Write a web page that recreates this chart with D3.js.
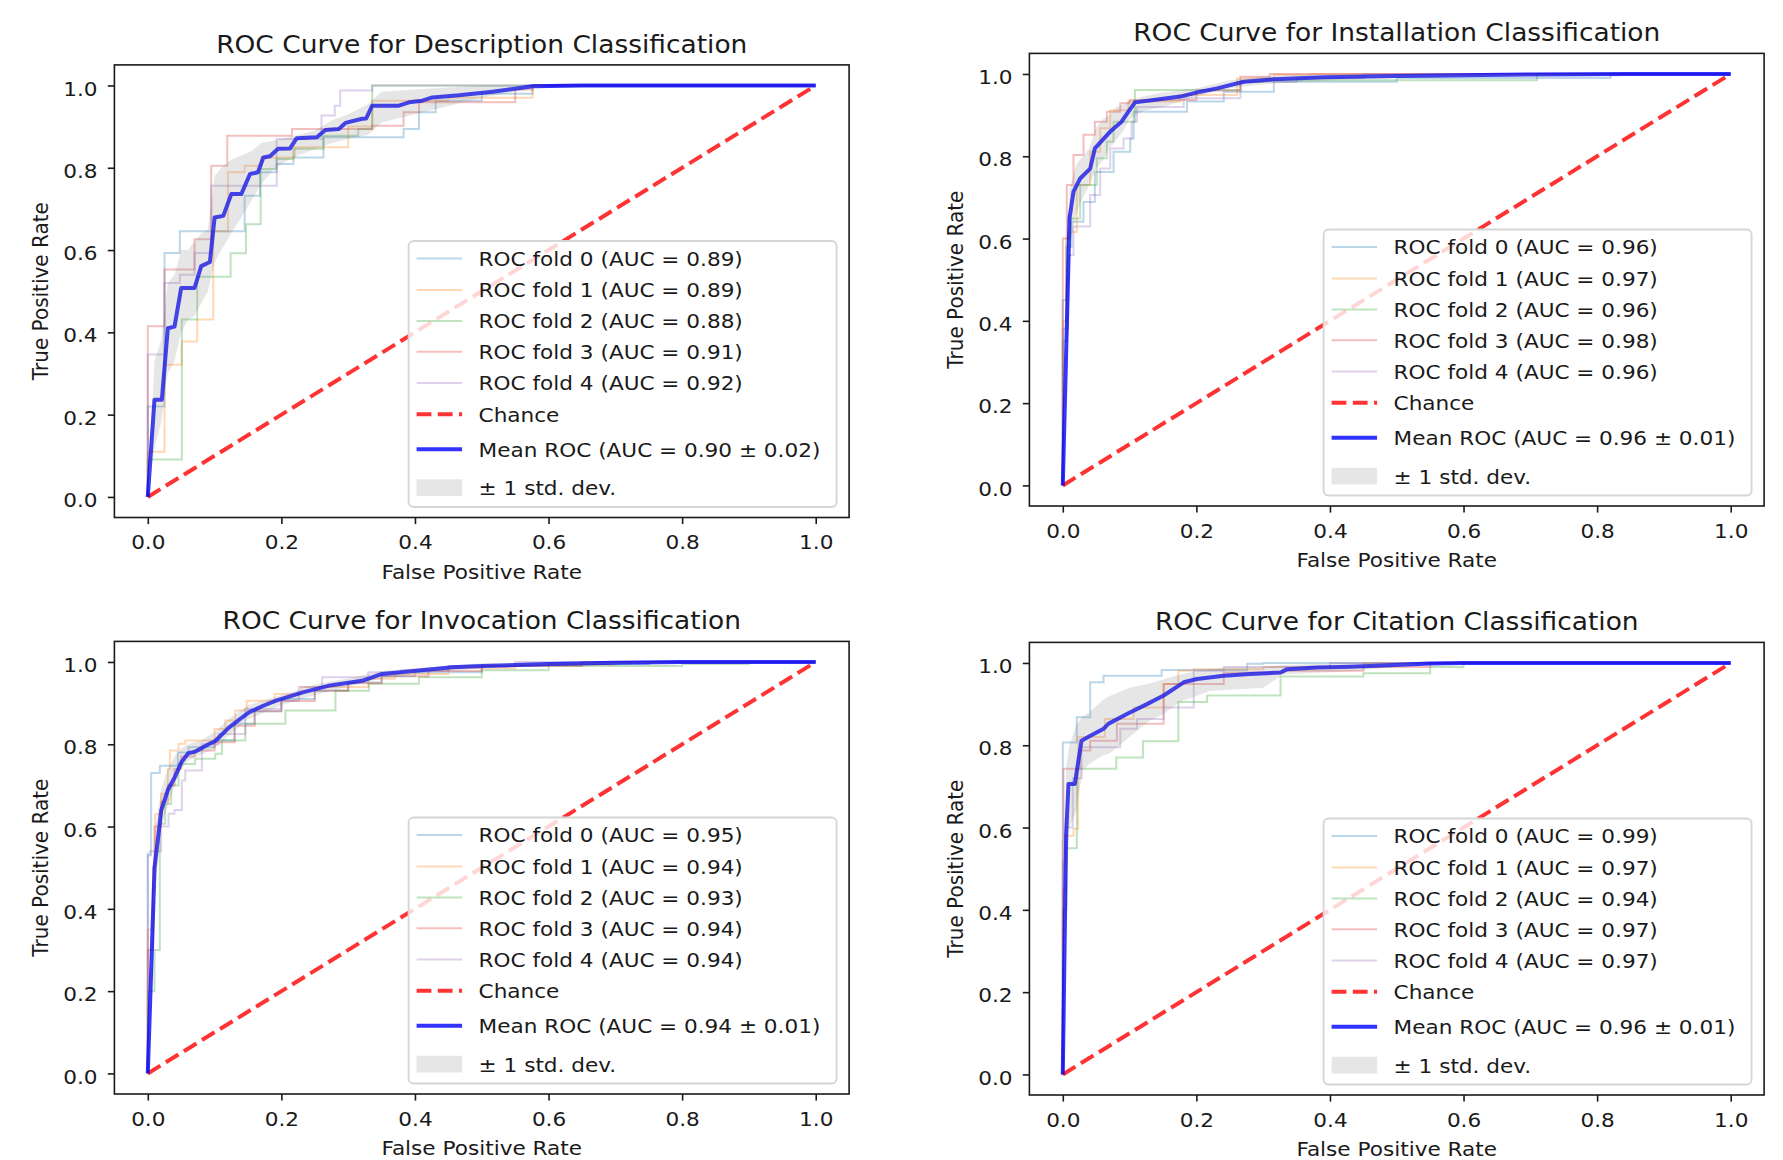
<!DOCTYPE html>
<html>
<head>
<meta charset="utf-8">
<script src="https://cdnjs.cloudflare.com/ajax/libs/d3/7.8.5/d3.min.js"></script>
<style>
  body { margin: 0; background: #fff; }
  svg text { font-family: 'DejaVu Sans', sans-serif; fill: #1a1a1a; }
</style>
</head>
<body>
<div id="chart"></div>
<script>
// tick values shared by both axes of every panel
var ticks = [0, 0.2, 0.4, 0.6, 0.8, 1.0]
var foldColors = ['#1f77b4', '#ff7f0e', '#2ca02c', '#d62728', '#9467bd']
var chanceLine = [[0, 0], [1, 1]]

var titles = [
  'ROC Curve for Description Classification',
  'ROC Curve for Installation Classification',
  'ROC Curve for Invocation Classification',
  'ROC Curve for Citation Classification'
]

// --- Description ---
var descAuc = [0.89, 0.89, 0.88, 0.91, 0.92]
var descMeanAuc = '0.90 ± 0.02'
var descFolds = [
  [[0,0],[0,0.22],[0.025,0.22],[0.025,0.593],[0.048,0.593],[0.048,0.646],[0.095,0.646],[0.145,0.663],[0.145,0.732],[0.168,0.789],[0.193,0.809],[0.218,0.825],[0.263,0.874],[0.383,0.894],[0.406,0.935],[0.431,0.963],[0.5,0.98],[0.576,1],[1,1]],
  [[0,0],[0,0.11],[0.025,0.321],[0.051,0.378],[0.074,0.431],[0.098,0.646],[0.12,0.789],[0.145,0.805],[0.17,0.825],[0.22,0.85],[0.3,0.9],[0.336,0.963],[0.45,0.97],[0.576,1],[1,1]],
  [[0,0],[0,0.091],[0.051,0.431],[0.074,0.535],[0.124,0.592],[0.147,0.663],[0.169,0.797],[0.193,0.821],[0.218,0.846],[0.263,0.878],[0.315,0.894],[0.336,1],[1,1]],
  [[0,0],[0,0.415],[0.025,0.553],[0.07,0.626],[0.095,0.805],[0.119,0.878],[0.216,0.894],[0.336,0.902],[0.383,0.935],[0.406,0.959],[0.55,0.99],[0.576,1],[1,1]],
  [[0,0],[0,0.346],[0.01,0.346],[0.025,0.52],[0.048,0.54],[0.07,0.593],[0.095,0.756],[0.14,0.756],[0.193,0.87],[0.26,0.927],[0.28,0.951],[0.288,0.988],[0.336,1],[1,1]]
]
var descMean = [[0,0],[0.01,0.236],[0.021,0.236],[0.03,0.41],[0.04,0.414],[0.05,0.508],[0.07,0.508],[0.08,0.561],[0.093,0.571],[0.1,0.679],[0.113,0.683],[0.125,0.736],[0.14,0.736],[0.153,0.785],[0.165,0.789],[0.173,0.825],[0.183,0.828],[0.195,0.846],[0.213,0.847],[0.223,0.872],[0.253,0.874],[0.266,0.892],[0.286,0.894],[0.296,0.909],[0.321,0.919],[0.327,0.92],[0.336,0.951],[0.376,0.951],[0.391,0.959],[0.411,0.963],[0.426,0.971],[0.466,0.976],[0.516,0.985],[0.541,0.99],[0.576,0.998],[0.65,1],[1,1]]
var descBand = [[0,0,0],[0.01,0.12,0.33],[0.02,0.18,0.38],[0.03,0.3,0.52],[0.04,0.33,0.54],[0.05,0.4,0.6],[0.06,0.43,0.6],[0.07,0.44,0.62],[0.08,0.47,0.64],[0.09,0.5,0.65],[0.1,0.57,0.78],[0.11,0.6,0.8],[0.125,0.64,0.82],[0.14,0.68,0.83],[0.155,0.72,0.84],[0.17,0.76,0.86],[0.185,0.79,0.865],[0.2,0.81,0.87],[0.225,0.83,0.88],[0.25,0.845,0.89],[0.275,0.86,0.915],[0.3,0.87,0.93],[0.33,0.88,0.955],[0.35,0.91,0.985],[0.4,0.93,0.99],[0.45,0.95,0.995],[0.5,0.97,1],[0.55,0.985,1],[0.6,1,1],[1,1,1]]

// --- Installation ---
var instAuc = [0.96, 0.97, 0.96, 0.98, 0.96]
var instMeanAuc = '0.96 ± 0.01'
var instFolds = [
  [[0,0],[0,0.45],[0.005,0.58],[0.013,0.641],[0.031,0.689],[0.048,0.762],[0.076,0.811],[0.101,0.843],[0.106,0.908],[0.171,0.908],[0.186,0.933],[0.241,0.957],[0.316,0.981],[0.5,0.99],[0.82,0.995],[0.82,1],[1,1]],
  [[0,0],[0,0.4],[0.005,0.6],[0.0085,0.616],[0.021,0.73],[0.041,0.811],[0.056,0.868],[0.071,0.912],[0.098,0.933],[0.176,0.949],[0.261,0.989],[0.316,0.998],[0.37,1],[1,1]],
  [[0,0],[0,0.35],[0.006,0.6],[0.011,0.649],[0.026,0.73],[0.051,0.795],[0.066,0.835],[0.076,0.884],[0.108,0.92],[0.108,0.961],[0.226,0.961],[0.266,0.981],[0.3,0.985],[0.71,0.985],[0.71,1],[1,1]],
  [[0,0],[0,0.6],[0.006,0.6],[0.006,0.73],[0.016,0.803],[0.031,0.852],[0.048,0.884],[0.066,0.908],[0.086,0.929],[0.1,0.937],[0.2,0.96],[0.266,0.993],[0.31,1],[1,1]],
  [[0,0],[0,0.38],[0.008,0.56],[0.016,0.629],[0.041,0.706],[0.056,0.77],[0.071,0.819],[0.091,0.843],[0.103,0.884],[0.111,0.92],[0.181,0.941],[0.266,0.981],[0.35,0.99],[0.45,1],[1,1]]
]
var instMean = [[0,0],[0.0101,0.65],[0.016,0.714],[0.026,0.746],[0.041,0.77],[0.048,0.819],[0.071,0.86],[0.088,0.884],[0.098,0.908],[0.108,0.931],[0.136,0.937],[0.176,0.945],[0.206,0.957],[0.231,0.965],[0.271,0.981],[0.316,0.987],[0.391,0.992],[0.5,0.995],[0.7,0.999],[0.85,1],[1,1]]
var instBand = [[0,0,0],[0.01,0.58,0.72],[0.02,0.66,0.78],[0.03,0.7,0.8],[0.04,0.73,0.82],[0.05,0.77,0.87],[0.06,0.79,0.89],[0.07,0.82,0.9],[0.08,0.84,0.92],[0.09,0.86,0.925],[0.1,0.89,0.935],[0.12,0.91,0.945],[0.15,0.92,0.955],[0.2,0.945,0.965],[0.25,0.965,0.985],[0.3,0.975,0.995],[0.4,0.985,1],[0.5,0.99,1],[0.7,0.995,1],[0.85,1,1],[1,1,1]]

// --- Invocation ---
var invoAuc = [0.95, 0.94, 0.93, 0.94, 0.94]
var invoMeanAuc = '0.94 ± 0.01'
var invoFolds = [
  [[0,0],[0,0.53],[0.003,0.53],[0.005,0.73],[0.018,0.748],[0.038,0.748],[0.045,0.78],[0.061,0.793],[0.1,0.81],[0.13,0.85],[0.16,0.88],[0.2,0.91],[0.25,0.93],[0.3,0.95],[0.35,0.965],[0.4,0.975],[0.5,0.99],[0.6,0.995],[0.75,1],[1,1]],
  [[0,0],[0,0.35],[0.008,0.5],[0.011,0.63],[0.02,0.68],[0.03,0.74],[0.033,0.785],[0.046,0.801],[0.056,0.809],[0.1,0.837],[0.116,0.858],[0.131,0.882],[0.148,0.906],[0.19,0.922],[0.23,0.939],[0.33,0.959],[0.37,0.971],[0.45,0.985],[0.55,0.993],[0.7,1],[1,1]],
  [[0,0],[0,0.2],[0.01,0.3],[0.018,0.405],[0.018,0.607],[0.026,0.655],[0.035,0.7],[0.046,0.752],[0.071,0.765],[0.101,0.777],[0.111,0.809],[0.146,0.85],[0.206,0.882],[0.281,0.93],[0.331,0.947],[0.406,0.963],[0.5,0.98],[0.6,0.99],[0.8,0.995],[0.9,1],[1,1]],
  [[0,0],[0,0.3],[0.008,0.45],[0.01,0.6],[0.02,0.66],[0.03,0.7],[0.04,0.74],[0.05,0.77],[0.07,0.785],[0.1,0.805],[0.13,0.845],[0.16,0.88],[0.2,0.905],[0.25,0.93],[0.3,0.948],[0.35,0.965],[0.42,0.978],[0.5,0.99],[0.65,1],[1,1]],
  [[0,0],[0,0.534],[0.003,0.54],[0.02,0.6],[0.031,0.631],[0.04,0.64],[0.051,0.712],[0.056,0.736],[0.081,0.8],[0.106,0.825],[0.146,0.886],[0.2,0.906],[0.226,0.939],[0.261,0.963],[0.33,0.975],[0.38,0.979],[0.45,0.99],[0.55,1],[1,1]]
]
var invoMean = [[0,0],[0.0101,0.5],[0.0202,0.64],[0.0303,0.69],[0.0404,0.72],[0.0505,0.757],[0.0606,0.778],[0.0707,0.782],[0.0909,0.8],[0.101,0.808],[0.121,0.84],[0.141,0.865],[0.152,0.878],[0.172,0.893],[0.192,0.906],[0.232,0.926],[0.273,0.943],[0.323,0.955],[0.351,0.971],[0.406,0.979],[0.456,0.987],[0.5,0.99],[0.6,0.995],[0.7,0.998],[0.8,1],[1,1]]
var invoBand = [[0,0,0],[0.01,0.42,0.58],[0.02,0.6,0.69],[0.03,0.65,0.74],[0.04,0.7,0.77],[0.05,0.74,0.79],[0.06,0.76,0.8],[0.08,0.775,0.81],[0.1,0.79,0.83],[0.12,0.82,0.86],[0.15,0.86,0.895],[0.2,0.895,0.92],[0.25,0.92,0.945],[0.3,0.94,0.96],[0.35,0.96,0.978],[0.4,0.97,0.985],[0.5,0.985,0.997],[0.7,0.995,1],[0.8,1,1],[1,1,1]]

// --- Citation ---
var citeAuc = [0.99, 0.97, 0.94, 0.97, 0.97]
var citeMeanAuc = '0.96 ± 0.01'
var citeFolds = [
  [[0,0],[0,0.807],[0.018,0.807],[0.021,0.868],[0.041,0.953],[0.061,0.969],[0.148,0.983],[0.276,0.998],[0.3,1],[1,1]],
  [[0,0],[0,0.45],[0.005,0.58],[0.016,0.597],[0.023,0.82],[0.063,0.864],[0.106,0.892],[0.151,0.949],[0.173,0.981],[0.196,0.985],[0.3,0.99],[0.45,1],[1,1]],
  [[0,0],[0,0.4],[0.005,0.55],[0.021,0.581],[0.021,0.743],[0.043,0.743],[0.08,0.77],[0.12,0.81],[0.173,0.868],[0.173,0.905],[0.216,0.921],[0.326,0.967],[0.45,0.975],[0.55,0.99],[0.6,1],[1,1]],
  [[0,0],[0,0.57],[0.001,0.743],[0.021,0.743],[0.026,0.787],[0.041,0.811],[0.081,0.852],[0.151,0.949],[0.241,0.977],[0.331,0.981],[0.45,0.99],[0.55,1],[1,1]],
  [[0,0],[0,0.52],[0.005,0.6],[0.015,0.72],[0.028,0.795],[0.086,0.84],[0.111,0.864],[0.151,0.892],[0.196,0.981],[0.241,0.99],[0.4,1],[1,1]]
]
var citeMean = [[0,0],[0.005,0.581],[0.0085,0.706],[0.018,0.706],[0.028,0.811],[0.04,0.822],[0.061,0.84],[0.068,0.852],[0.096,0.876],[0.126,0.9],[0.151,0.921],[0.181,0.953],[0.201,0.961],[0.241,0.969],[0.281,0.973],[0.326,0.977],[0.336,0.985],[0.381,0.989],[0.431,0.991],[0.55,0.999],[0.6,1],[1,1]]
var citeBand = [[0,0,0],[0.005,0.45,0.75],[0.01,0.6,0.8],[0.02,0.64,0.85],[0.03,0.74,0.87],[0.04,0.755,0.88],[0.06,0.775,0.91],[0.07,0.78,0.92],[0.1,0.82,0.94],[0.13,0.86,0.95],[0.15,0.875,0.96],[0.175,0.905,0.972],[0.2,0.92,0.98],[0.22,0.932,0.985],[0.25,0.935,0.99],[0.3,0.94,0.99],[0.33,0.972,0.995],[0.43,0.98,1],[0.5,0.99,1],[0.55,1,1],[1,1,1]]

;(function() {
  var W = 1783, H = 1160
  var SX = 1.08 // the reference picture is a bit wider than tall, text too
  var FRAME_W = 734.7, FRAME_H = 452.6

  var panels = [
    {title: titles[0], folds: descFolds, mean: descMean, band: descBand, auc: descAuc, meanAuc: descMeanAuc, left: 114.4, top: 64.9},
    {title: titles[1], folds: instFolds, mean: instMean, band: instBand, auc: instAuc, meanAuc: instMeanAuc, left: 1029.4, top: 53.4},
    {title: titles[2], folds: invoFolds, mean: invoMean, band: invoBand, auc: invoAuc, meanAuc: invoMeanAuc, left: 114.4, top: 641.4},
    {title: titles[3], folds: citeFolds, mean: citeMean, band: citeBand, auc: citeAuc, meanAuc: citeMeanAuc, left: 1029.4, top: 642.4}
  ]

  var svg = d3.select('#chart').append('svg')
    .attr('width', W)
    .attr('height', H)
  svg.append('rect').attr('width', W).attr('height', H).attr('fill', '#fff')

  function addText(g, x, y, str, size, anchor, rotated) {
    var t = rotated ? 'translate(' + x + ',' + y + ') rotate(-90) scale(1,' + SX + ')'
                    : 'translate(' + x + ',' + y + ') scale(' + SX + ',1)'
    return g.append('text')
      .attr('transform', t)
      .attr('text-anchor', anchor)
      .attr('font-size', size)
      .text(str)
  }

  function drawPanel(p, idx) {
    var g = svg.append('g')
    var x = d3.scaleLinear().domain([-0.05, 1.05]).range([p.left, p.left + FRAME_W])
    var y = d3.scaleLinear().domain([-0.05, 1.05]).range([p.top + FRAME_H, p.top])
    var bottom = p.top + FRAME_H, right = p.left + FRAME_W

    var clipId = 'clip' + idx
    g.append('clipPath').attr('id', clipId).append('rect')
      .attr('x', p.left).attr('y', p.top).attr('width', FRAME_W).attr('height', FRAME_H)
    var plot = g.append('g').attr('clip-path', 'url(#' + clipId + ')')

    var foldLine = d3.line().x(d => x(d[0])).y(d => y(d[1])).curve(d3.curveStepAfter)
    p.folds.forEach(function(f, i) {
      plot.append('path').attr('d', foldLine(f))
        .attr('fill', 'none').attr('stroke', foldColors[i])
        .attr('stroke-opacity', 0.3).attr('stroke-width', 2)
    })

    var line = d3.line().x(d => x(d[0])).y(d => y(d[1]))
    plot.append('path').attr('d', line(chanceLine))
      .attr('fill', 'none').attr('stroke', 'red').attr('stroke-opacity', 0.8)
      .attr('stroke-width', 4).attr('stroke-dasharray', '14.8,6.4')

    plot.append('path').attr('d', line(p.mean))
      .attr('fill', 'none').attr('stroke', 'blue').attr('stroke-opacity', 0.8)
      .attr('stroke-width', 4).attr('stroke-linejoin', 'round')

    var area = d3.area().x(d => x(d[0])).y0(d => y(d[1])).y1(d => y(d[2]))
    plot.append('path').attr('d', area(p.band))
      .attr('fill', '#808080').attr('fill-opacity', 0.2)

    // axes
    var xAxis = d3.axisBottom(x).tickValues(ticks).tickFormat(d3.format('.1f'))
      .tickSize(6.6).tickPadding(11)
    var gx = g.append('g').attr('transform', 'translate(0,' + bottom + ')').call(xAxis)
    var yAxis = d3.axisLeft(y).tickValues(ticks).tickFormat(d3.format('.1f'))
      .tickSize(6.6).tickPadding(9)
    var gy = g.append('g').attr('transform', 'translate(' + p.left + ',0)').call(yAxis)
    gy.selectAll('text').attr('dy', '0.48em')
    ;[gx, gy].forEach(function(a) {
      a.select('.domain').remove()
      a.attr('font-size', 20).attr('font-family', null)
      a.selectAll('line').attr('stroke', '#1a1a1a').attr('stroke-width', 1.6)
      a.selectAll('text').attr('fill', '#1a1a1a')
        .attr('transform', 'scale(' + SX + ',1)')
    })

    g.append('rect')
      .attr('x', p.left).attr('y', p.top).attr('width', FRAME_W).attr('height', FRAME_H)
      .attr('fill', 'none').attr('stroke', '#1a1a1a').attr('stroke-width', 1.6)

    addText(g, (p.left + right) / 2, p.top - 12, p.title, 24.5, 'middle')
    addText(g, (p.left + right) / 2, bottom + 61, 'False Positive Rate', 20, 'middle')
    addText(g, p.left - 66, (p.top + bottom) / 2, 'True Positive Rate', 20, 'middle', true)

    drawLegend(g, p, right - 12.5 - 428, bottom - 10.5 - 266)
  }

  function drawLegend(g, p, lx, ly) {
    var lg = g.append('g').attr('transform', 'translate(' + lx + ',' + ly + ')')
    lg.append('rect').attr('width', 428).attr('height', 266).attr('rx', 5)
      .attr('fill', '#fff').attr('fill-opacity', 0.8)
      .attr('stroke', '#d5d5d5').attr('stroke-width', 1.8)

    var rows = [17.5, 49, 80, 110.8, 142, 173.3, 208.3, 246.7]
    p.auc.forEach(function(a, i) {
      lg.append('line').attr('x1', 8).attr('x2', 53.5).attr('y1', rows[i]).attr('y2', rows[i])
        .attr('stroke', foldColors[i]).attr('stroke-opacity', 0.3).attr('stroke-width', 2)
      addText(lg, 70, rows[i] + 7.3, 'ROC fold ' + i + ' (AUC = ' + a.toFixed(2) + ')', 20, 'start')
    })
    lg.append('line').attr('x1', 8).attr('x2', 53.5).attr('y1', rows[5]).attr('y2', rows[5])
      .attr('stroke', 'red').attr('stroke-opacity', 0.8).attr('stroke-width', 4)
      .attr('stroke-dasharray', '14.8,6.4')
    addText(lg, 70, rows[5] + 7.3, 'Chance', 20, 'start')
    lg.append('line').attr('x1', 8).attr('x2', 53.5).attr('y1', rows[6]).attr('y2', rows[6])
      .attr('stroke', 'blue').attr('stroke-opacity', 0.8).attr('stroke-width', 4)
    addText(lg, 70, rows[6] + 7.3, 'Mean ROC (AUC = ' + p.meanAuc + ')', 20, 'start')
    lg.append('rect').attr('x', 8).attr('y', rows[7] - 8.4).attr('width', 45.5).attr('height', 16.7)
      .attr('fill', '#808080').attr('fill-opacity', 0.2)
    addText(lg, 70, rows[7] + 7.3, '± 1 std. dev.', 20, 'start')
  }

  panels.forEach(drawPanel)
})()
</script>
</body>
</html>
